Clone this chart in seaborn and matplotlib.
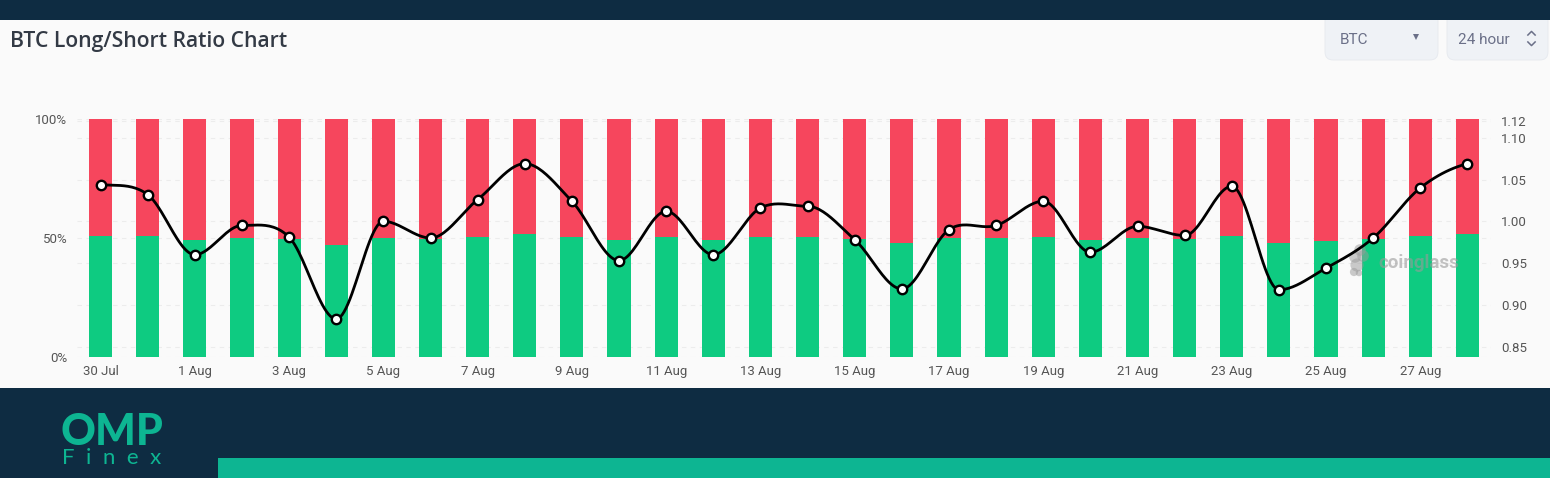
import matplotlib.pyplot as plt
import numpy as np
import seaborn as sns
from matplotlib.patches import FancyBboxPatch, Rectangle

dates = ["30 Jul", "31 Jul", "1 Aug", "2 Aug", "3 Aug", "4 Aug", "5 Aug", "6 Aug", "7 Aug", "8 Aug",
         "9 Aug", "10 Aug", "11 Aug", "12 Aug", "13 Aug", "14 Aug", "15 Aug", "16 Aug", "17 Aug", "18 Aug",
         "19 Aug", "20 Aug", "21 Aug", "22 Aug", "23 Aug", "24 Aug", "25 Aug", "26 Aug", "27 Aug", "28 Aug"]
long_pct = [51.0, 50.7, 49.0, 50.0, 49.5, 47.0, 50.0, 49.5, 50.6, 51.7,
            50.6, 49.0, 50.3, 49.0, 50.4, 50.4, 49.5, 47.9, 49.8, 50.0,
            50.6, 49.0, 50.0, 49.6, 51.0, 47.9, 48.6, 49.5, 51.0, 51.7]
ratio = [1.044, 1.032, 0.960, 0.995, 0.981, 0.883, 1.000, 0.980, 1.026, 1.069,
         1.024, 0.953, 1.012, 0.960, 1.016, 1.018, 0.978, 0.919, 0.990, 0.995,
         1.024, 0.963, 0.994, 0.983, 1.042, 0.918, 0.944, 0.980, 1.040, 1.069]
left_ticks = [0, 50, 100]
right_ticks = [0.85, 0.90, 0.95, 1.00, 1.05, 1.10, 1.12]

NAVY = "#0e2c42"
TEAL = "#0db592"
W, H = 1550, 478


def smooth_curve(y, steps=24):
    # hermite segments, flat at the local peaks like the site's smoothed line
    y = np.asarray(y)
    slope = np.zeros(len(y))
    for i in range(1, len(y) - 1):
        if (y[i] - y[i - 1]) * (y[i + 1] - y[i]) > 0:
            slope[i] = (y[i + 1] - y[i - 1]) / 2
    slope[0] = (y[1] - y[0]) / 2
    slope[-1] = (y[-1] - y[-2]) / 2
    xs, ys = [], []
    for i in range(len(y) - 1):
        t = np.linspace(0, 1, steps, endpoint=False)
        ys.append((2 * t**3 - 3 * t**2 + 1) * y[i] + (t**3 - 2 * t**2 + t) * slope[i]
                  + (-2 * t**3 + 3 * t**2) * y[i + 1] + (t**3 - t**2) * slope[i + 1])
        xs.append(i + t)
    return np.append(np.concatenate(xs), len(y) - 1), np.append(np.concatenate(ys), y[-1])


sns.set_theme(style="white")
plt.rcParams["font.family"] = ["Roboto", "DejaVu Sans"]

fig = plt.figure(figsize=(W / 100, H / 100), dpi=100)

# page furniture, drawn in pixel coordinates
bg = fig.add_axes([0, 0, 1, 1], zorder=0)
bg.set_xlim(0, W)
bg.set_ylim(H, 0)
bg.axis("off")
bg.add_patch(Rectangle((0, 20), W, 368, color="#fafafa", lw=0))
for x0, w in [(1325, 113), (1447, 101)]:
    bg.add_patch(FancyBboxPatch((x0, 5), w, 55, boxstyle="round,pad=0,rounding_size=8",
                                fc="#eff2f6", ec="#e6e9ee", lw=0.6))
bg.add_patch(Rectangle((0, 0), W, 20, color=NAVY, lw=0, zorder=5))
bg.add_patch(Rectangle((0, 388), W, 90, color=NAVY, lw=0))
bg.add_patch(Rectangle((218, 458), W - 218, 20, color=TEAL, lw=0))
bg.text(10, 47, "BTC Long/Short Ratio Chart", fontsize=15.2, family="Open Sans", fontweight="semibold",
        color="#333a45", va="baseline")
bg.text(1340, 44, "BTC", fontsize=11, color="#6b7088", va="baseline")
bg.text(1458, 44, "24 hour", fontsize=11, color="#6b7088", va="baseline")
bg.plot([1416], [37], marker="v", ms=5, color="#6b7088", ls="none", mew=0)
chevron_up = [(-1, -0.5), (0, 0.5), (1, -0.5)]
chevron_down = [(-1, 0.5), (0, -0.5), (1, 0.5)]
bg.plot([1531], [33], marker=chevron_up, ms=6, mfc="none", mec="#6b7088", mew=1.1, ls="none")
bg.plot([1531], [43], marker=chevron_down, ms=6, mfc="none", mec="#6b7088", mew=1.1, ls="none")
bg.text(61, 445, "OMP", fontsize=31, family="Lato", fontweight="black", color=TEAL, va="baseline")
bg.text(62, 464, "F  i  n  e  x", fontsize=16, family="Lato", fontweight="normal", color=TEAL, va="baseline")

# chart
box = [77 / W, 1 - 357 / H, 1414 / W, 238 / H]
ax = fig.add_axes(box, zorder=1)
ax.patch.set_alpha(0)
ax2 = ax.twinx()
ax2.set_zorder(2)
ax2.patch.set_alpha(0)

short_pct = [100 - v for v in long_pct]
sns.barplot(x=dates, y=long_pct, color="#0ecb81", saturation=1, width=0.49, linewidth=0, ax=ax)
sns.barplot(x=dates, y=short_pct, bottom=long_pct, color="#f6465d", saturation=1, width=0.49, linewidth=0, ax=ax)

curve_x, curve_y = smooth_curve(ratio)
sns.lineplot(x=curve_x, y=curve_y, color="black", linewidth=2, sort=False, estimator=None, ax=ax2)
sns.scatterplot(x=np.arange(len(ratio)), y=ratio, s=46, color="white", edgecolor="black", linewidth=1.7,
                clip_on=False, zorder=5, ax=ax2)

ax.set_xlim(-0.5, 29.5)
ax.set_ylim(0, 100)
ax2.set_ylim(0.8375, 1.1225)

ax.set_xticks(range(0, len(dates) - 1, 2))
ax.set_xticklabels(dates[::2][:len(range(0, len(dates) - 1, 2))])
ax.set_yticks(left_ticks)
ax.set_yticklabels([f"{v}%" for v in left_ticks])
ax2.set_yticks(right_ticks)
ax2.set_yticklabels([f"{v:.2f}" for v in right_ticks])
ax.tick_params(axis="x", length=0, labelsize=9.5, labelcolor="#555555", pad=5.5)
ax.tick_params(axis="y", length=0, labelsize=9.5, labelcolor="#555555", pad=7)
ax2.tick_params(axis="y", length=0, labelsize=9.5, labelcolor="#555555", pad=7.5)
ax.set_xlabel("")
ax.set_ylabel("")
ax2.set_xlabel("")
ax2.set_ylabel("")
sns.despine(ax=ax, left=True, bottom=True, right=True)
sns.despine(ax=ax2, left=True, bottom=True, right=True)

# faint dashed guides behind the bars, for both y scales
for v in left_ticks:
    ax.axhline(v, color="#ececec", lw=0.8, ls=(0, (4, 4)), zorder=0)
for v in right_ticks:
    ax.plot([0, 1], [v, v], transform=ax2.get_yaxis_transform(), color="#ececec", lw=0.8, ls=(0, (4, 4)), zorder=0)

# watermark sits over the bars but under the line
mark = bg.transData
ax.text(1378, 268, "coinglass", transform=mark, fontsize=13.5, fontweight="bold", color="#9a9a9a", alpha=0.6,
        va="baseline", zorder=6)
ax.scatter([1360, 1355, 1363, 1357, 1354, 1359], [250, 257, 256, 265, 272, 273], s=[70, 70, 70, 90, 35, 22],
           color="#9a9a9a", alpha=0.5, linewidths=0, transform=mark, zorder=6, clip_on=False)

fig.savefig("out.png", dpi=100)
